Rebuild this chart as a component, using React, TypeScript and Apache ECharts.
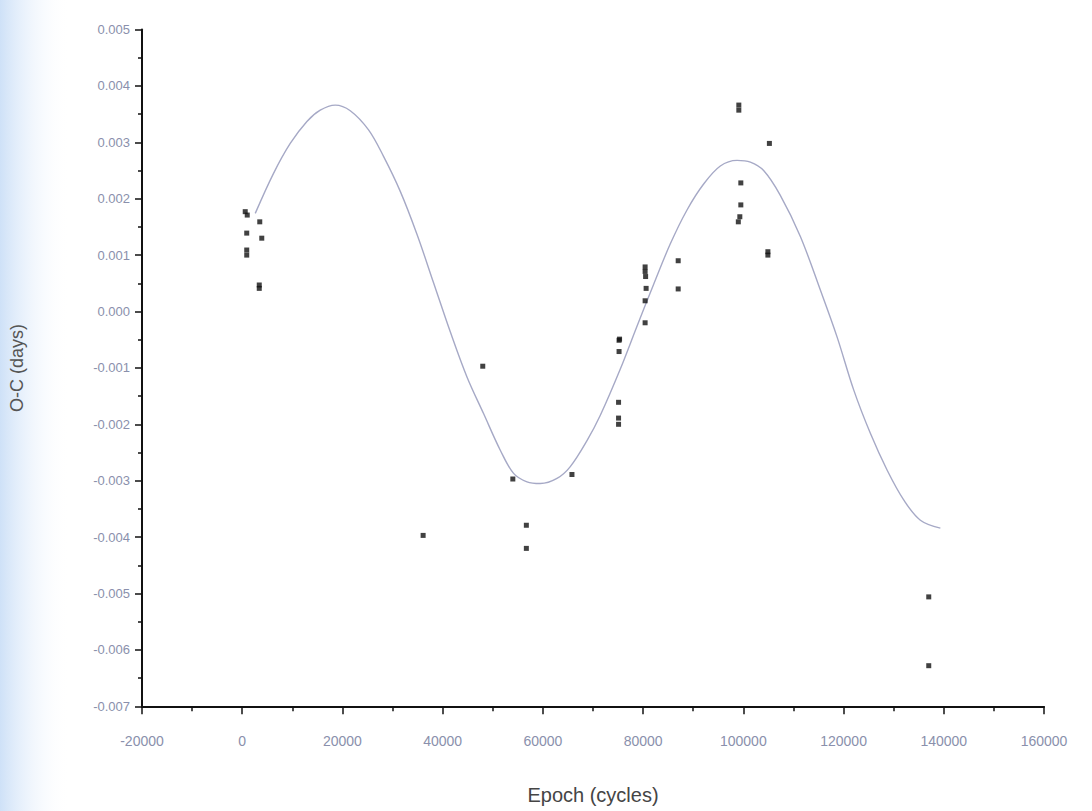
import React, { useEffect, useRef } from "react";
import * as echarts from "echarts";

// Observed O-C points: [epoch, O-C days]
const obsEpoch = [
  600, 1000, 3500, 900, 3900, 900, 900, 3400, 3400,
  36100, 48000, 54000, 56700, 56700, 65800,
  75200, 75200, 75100, 75100, 75100,
  80400, 80400, 80500, 80600, 80400, 80400, 75300,
  87000, 87000,
  99100, 99100, 99500, 99500, 99300, 99000,
  105200, 104900, 104900,
  137000, 137000,
];
const obsOC = [
  0.00177, 0.00171, 0.00159, 0.00139, 0.0013, 0.00109, 0.001, 0.00047, 0.00041,
  -0.00397, -0.00097, -0.00297, -0.00379, -0.0042, -0.00289,
  -0.00051, -0.00071, -0.00161, -0.00189, -0.002,
  0.00079, 0.00071, 0.00062, 0.00041, 0.00019, -0.0002, -0.00049,
  0.0009, 0.0004,
  0.00366, 0.00357, 0.00228, 0.00189, 0.00168, 0.00159,
  0.00298, 0.00106, 0.001,
  -0.00506, -0.00628,
];

// Fitted curve
const fitEpoch = [
  2600, 6250, 9580, 12910, 15570, 18560, 21560, 25210, 28200, 31540, 34870,
  38180, 41520, 44850, 48160, 51500, 54150, 56830, 59480, 62810, 65470, 68800,
  71460, 75450, 78780, 82090, 85430, 88760, 92080, 95410, 98740, 101400, 104050,
  107380, 111380, 115370, 118700, 122020, 125350, 128680, 132000, 135330, 139320,
];
const fitOC = [
  0.00174, 0.00245, 0.00298, 0.00337, 0.00357, 0.00366, 0.00356, 0.00322, 0.00275,
  0.00213, 0.00137, 0.00051, -0.00036, -0.00116, -0.00181, -0.00246, -0.00287,
  -0.00302, -0.00305, -0.00296, -0.00275, -0.00229, -0.00184, -0.00102, -0.00026,
  0.00048, 0.0012, 0.0018, 0.00226, 0.00258, 0.00268, 0.00265, 0.0025, 0.00206,
  0.00133, 0.00038, -0.00045, -0.00139, -0.00216, -0.00281, -0.00334, -0.0037,
  -0.00384,
];

const xTicks = { min: -20000, max: 160000, interval: 20000 };
const yTicks = { min: -0.007, max: 0.005, interval: 0.001 };

export default function App() {
  const ref = useRef<HTMLDivElement>(null);
  useEffect(() => {
    if (!ref.current) return;
    const chart = echarts.init(ref.current, null, { renderer: "svg" });
    const labelColor = "#8a90ac";
    chart.setOption({
      animation: false,
      backgroundColor: "#ffffff",
      graphic: [
        {
          type: "rect",
          left: 0,
          top: 0,
          shape: { width: 70, height: 811 },
          silent: true,
          z: -10,
          style: {
            fill: new echarts.graphic.LinearGradient(0, 0, 1, 0, [
              { offset: 0, color: "rgba(190,215,245,0.75)" },
              { offset: 1, color: "rgba(255,255,255,0)" },
            ]),
          },
        },
      ],
      grid: { left: 142, right: 48, top: 29.5, bottom: 104.7, containLabel: false },
      xAxis: {
        type: "value",
        min: xTicks.min,
        max: xTicks.max,
        interval: xTicks.interval,
        name: "Epoch (cycles)",
        nameLocation: "middle",
        nameGap: 79,
        nameTextStyle: { fontFamily: "Liberation Sans, Arial, sans-serif", fontSize: 20, color: "#454545" },
        axisLine: { show: true, onZero: false, lineStyle: { color: "#111", width: 2 } },
        axisTick: { show: true, inside: false, length: 8, lineStyle: { color: "#111", width: 1.5 } },
        minorTick: { show: true, splitNumber: 2, length: 5, lineStyle: { color: "#111", width: 1.5 } },
        splitLine: { show: false },
        axisLabel: {
          margin: 28,
          fontFamily: "Liberation Sans, Arial, sans-serif",
          fontSize: 14,
          color: labelColor,
          formatter: (v: number) => String(Math.round(v)),
        },
      },
      yAxis: {
        type: "value",
        min: yTicks.min,
        max: yTicks.max,
        interval: yTicks.interval,
        name: "O-C (days)",
        nameLocation: "middle",
        nameGap: 116,
        nameRotate: 90,
        nameTextStyle: { fontFamily: "Liberation Sans, Arial, sans-serif", fontSize: 18, color: "#555" },
        axisLine: { show: true, onZero: false, lineStyle: { color: "#111", width: 2 } },
        axisTick: { show: true, inside: false, length: 7, lineStyle: { color: "#111", width: 1.5 } },
        minorTick: { show: true, splitNumber: 2, length: 4, lineStyle: { color: "#111", width: 1.5 } },
        splitLine: { show: false },
        axisLabel: {
          margin: 12,
          fontFamily: "Liberation Sans, Arial, sans-serif",
          fontSize: 13,
          color: labelColor,
          formatter: (v: number) => v.toFixed(3),
        },
      },
      series: [
        {
          type: "line",
          data: fitEpoch.map((x, i) => [x, fitOC[i]]),
          smooth: 0.35,
          showSymbol: false,
          lineStyle: { color: "#a6a9c6", width: 1.4 },
          z: 1,
        },
        {
          type: "scatter",
          data: obsEpoch.map((x, i) => [x, obsOC[i]]),
          symbol: "rect",
          symbolSize: 5,
          itemStyle: { color: "#111" },
          z: 2,
        },
      ],
    });
    return () => chart.dispose();
  }, []);
  return (
    <div
      ref={ref}
      style={{ position: "fixed", left: 0, top: 0, width: 1092, height: 811 }}
    />
  );
}
